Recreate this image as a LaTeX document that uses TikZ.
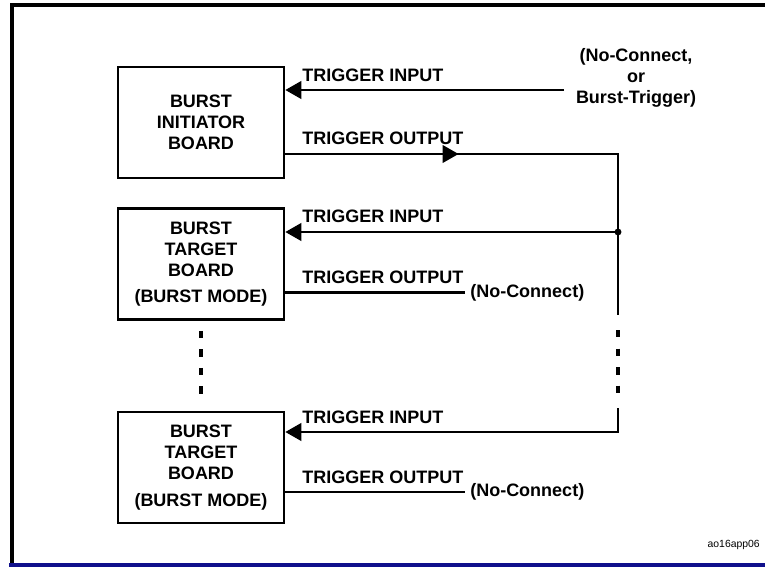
\documentclass[tikz,border=0pt]{standalone}
\usepackage{fontspec}
\setmainfont{Liberation Sans}
\usetikzlibrary{arrows.meta,decorations.markings,positioning}
\definecolor{filetbleu}{RGB}{16,16,140}
\tikzset{
Carte/.style={
 draw=black, 
 line width=1.9pt, 
 minimum width=124.5pt, 
 minimum height=83.25pt, 
 align=center, 
 font=\bfseries\fontsize{13.5}{15.75}\selectfont
 },
Etiquette/.style={
 anchor=base west, 
 inner sep=0pt, 
 font=\bfseries\fontsize{13.5}{15.75}\selectfont
 },
Libre/.style={
 align=center, 
 inner sep=0pt, 
 font=\bfseries\fontsize{13.5}{15.75}\selectfont
 },
Signal/.style={
 draw=black, 
 line width=2.2pt
 },
Entree/.style={
 -{Triangle[length=12pt,width=13pt]}
 },
MiFleche/.style={
 postaction={decorate}, 
 decoration={markings,mark=at position 130pt with {\arrow{Triangle[length=12pt,width=13pt]}}}
 },
Pointille/.style={
 draw=black, 
 line width=3pt, 
 dash pattern=on 5.6pt off 8.3pt
 }
}
\begin{document}
\begin{tikzpicture}[x=0.75pt,y=-0.75pt]
\useasboundingbox (0,0) rectangle (765,567);
% cadre
\draw[line width=3pt] (800,5) -- (12,5) -- (12,564);
\draw[filetbleu,line width=2.4pt] (9,565) -- (800,565);
% cartes
\node[Carte] (init) at (201,122.5) {BURST\\INITIATOR\\BOARD};
\node[Carte,below=21pt of init] (tgtA) {BURST\\TARGET\\BOARD\\[4pt](BURST MODE)};
\node[Carte,below=67.5pt of tgtA] (tgtB) {BURST\\TARGET\\BOARD\\[4pt](BURST MODE)};
% points du bus
\coordinate (trgA) at (564,90);
\coordinate (coin) at (618,154);
\coordinate (junc) at (618,232);
\coordinate (busA) at (618,315);
\coordinate (busB) at (618,330);
\coordinate (busC) at (618,395);
\coordinate (busD) at (618,408);
\coordinate (coinB) at (618,432);
% textes libres
\node[Libre] (srcA) at (636,78) {(No-Connect,\\or\\Burst-Trigger)};
\node[Libre,anchor=west,inner xsep=3.75pt] (ncA) at (465,292.5) {(No-Connect)};
\node[Libre,anchor=west,inner xsep=3.75pt] (ncB) at (465,492) {(No-Connect)};
% etiquettes
\node[Etiquette] (inA) at (302,82) {TRIGGER INPUT};
\node[Etiquette] (outA) at (302,145) {TRIGGER OUTPUT};
\node[Etiquette] (inB) at (302,222) {TRIGGER INPUT};
\node[Etiquette] (outB) at (302,283) {TRIGGER OUTPUT};
\node[Etiquette] (inC) at (302,423) {TRIGGER INPUT};
\node[Etiquette] (outC) at (302,483) {TRIGGER OUTPUT};
% liaisons
\draw[Signal,Entree] (trgA) -- (init.east |- trgA);
\draw[Signal,MiFleche] (init.east |- coin) -- (coin) -- (busA);
\draw[Signal,Entree] (junc) -- (tgtA.east |- junc);
\fill (junc) circle (2.6pt);
\draw[Signal] (tgtA.east |- ncA) -- (ncA.west);
\draw[Pointille] (busB) -- (busC);
\draw[Pointille,shorten <=7.5pt,shorten >=11pt] (tgtA) -- (tgtB);
\draw[Signal,Entree] (busD) -- (coinB) -- (tgtB.east |- coinB);
\draw[Signal] (tgtB.east |- ncB) -- (ncB.west);
% reference
\node[anchor=base east,inner sep=0pt,font=\fontsize{7.8}{9}\selectfont] (refno) at (760,547) {ao16app06};
\end{tikzpicture}
\end{document}
